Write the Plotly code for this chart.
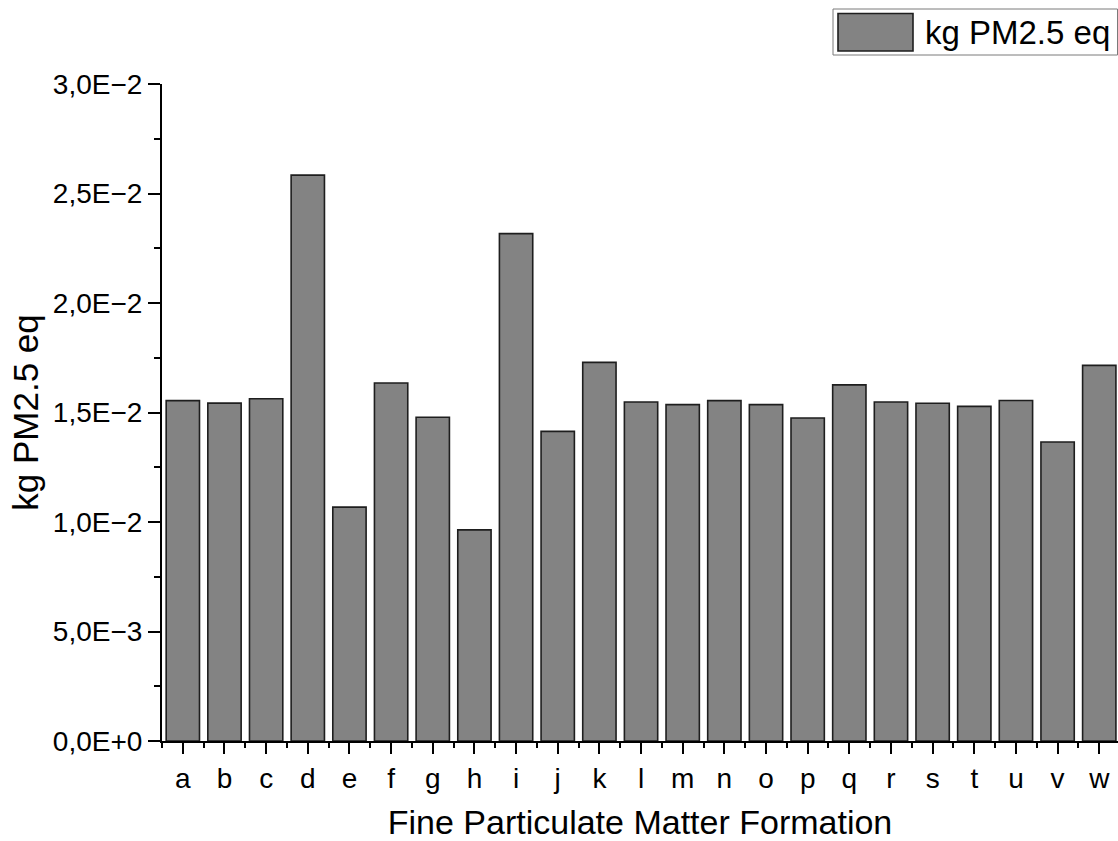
import plotly.graph_objects as go

# Fine particulate matter formation per scenario (kg PM2.5 eq)
categories = list("abcdefghijklmnopqrstuvw")
pm25_values = [
    0.01554, 0.01543, 0.01563, 0.02584, 0.01068, 0.01635, 0.01478, 0.00964,
    0.02317, 0.01414, 0.01729, 0.01548, 0.01536, 0.01554, 0.01536, 0.01475,
    0.01626, 0.01548, 0.01542, 0.01528, 0.01555, 0.01365, 0.01715,
]
y_tick_values = [0.0, 0.005, 0.010, 0.015, 0.020, 0.025, 0.030]
y_tick_labels = ["0,0E+0", "5,0E\u22123", "1,0E\u22122", "1,5E\u22122",
                 "2,0E\u22122", "2,5E\u22122", "3,0E\u22122"]
series_name = "kg PM2.5 eq"

FONT = "Liberation Sans, Arial, sans-serif"
BAR_FILL = "#838383"
BAR_EDGE = "#1e1e1e"

positions = list(range(len(categories)))

fig = go.Figure()
fig.add_trace(go.Bar(
    x=positions,
    y=pm25_values,
    width=0.8,
    marker=dict(color=BAR_FILL, line=dict(color=BAR_EDGE, width=1.6)),
    name=series_name,
    showlegend=False,
))

fig.update_layout(
    width=1118,
    height=841,
    margin=dict(l=162, r=0, t=84, b=100),
    paper_bgcolor="white",
    plot_bgcolor="white",
    font=dict(family=FONT, color="black"),
    xaxis=dict(
        range=[-0.5, 22.45],
        tickmode="array",
        tickvals=positions,
        ticktext=categories,
        ticks="outside",
        ticklen=11,
        tickwidth=2,
        tickcolor="black",
        tickfont=dict(size=28, family=FONT),
        showline=True,
        linecolor="black",
        linewidth=2,
        showgrid=False,
        zeroline=False,
        minor=dict(tickmode="linear", tick0=0.5, dtick=1, ticks="outside",
                   ticklen=5, tickwidth=2, tickcolor="black", showgrid=False),
        title=dict(text="Fine Particulate Matter Formation",
                   font=dict(size=34, family=FONT), standoff=20),
    ),
    yaxis=dict(
        range=[0, 0.030],
        tickmode="array",
        tickvals=y_tick_values,
        ticktext=y_tick_labels,
        ticks="outside",
        ticklen=12,
        tickwidth=2,
        tickcolor="black",
        tickfont=dict(size=28, family=FONT),
        showline=True,
        linecolor="black",
        linewidth=2,
        showgrid=False,
        zeroline=False,
        minor=dict(tickmode="linear", tick0=0, dtick=0.0025, ticks="outside",
                   ticklen=6, tickwidth=2, tickcolor="black", showgrid=False),
        title=dict(text=series_name, font=dict(size=35, family=FONT), standoff=4),
    ),
)

# Legend: framed box with a large swatch in the top-right corner
fig.add_shape(type="rect", xref="paper", yref="paper",
              x0=(833 - 162) / 956, x1=(1117.5 - 162) / 956,
              y0=1 + (84 - 55) / 657, y1=1 + (84 - 9) / 657,
              line=dict(color="#7a7a7a", width=1), fillcolor="white", layer="above")
fig.add_shape(type="rect", xref="paper", yref="paper",
              x0=(838 - 162) / 956, x1=(913 - 162) / 956,
              y0=1 + (84 - 51) / 657, y1=1 + (84 - 13.5) / 657,
              line=dict(color=BAR_EDGE, width=1.6), fillcolor=BAR_FILL, layer="above")
fig.add_annotation(xref="paper", yref="paper",
                   x=(923 - 162) / 956, y=1 + (84 - 32) / 657,
                   xanchor="left", yanchor="middle", showarrow=False,
                   text=series_name, font=dict(size=33, family=FONT, color="black"))

fig.write_html("out.html")
